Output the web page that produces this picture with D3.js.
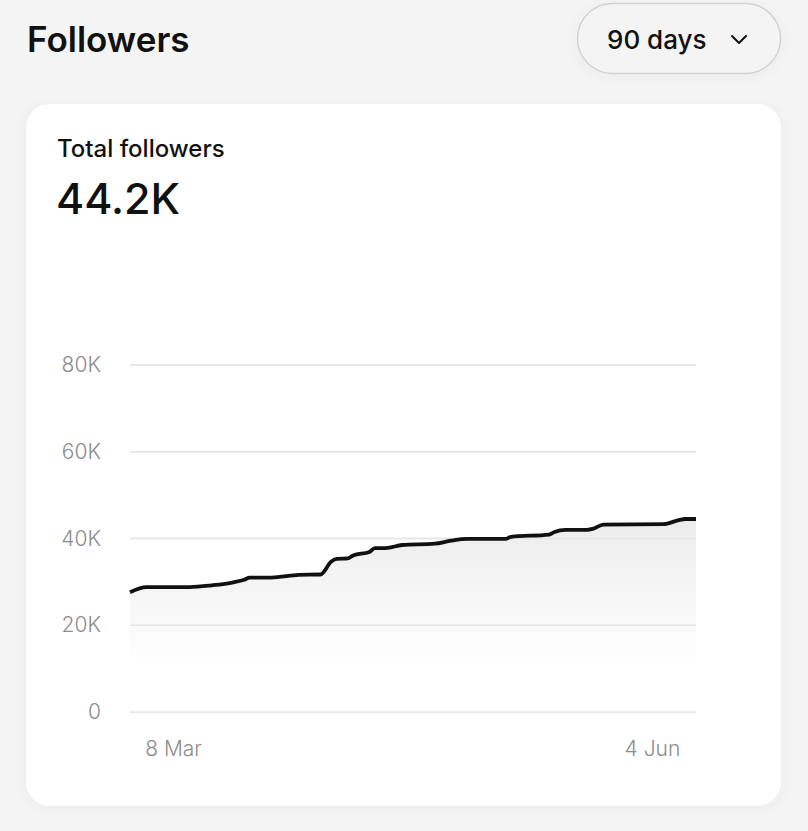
<!DOCTYPE html>
<html>
<head>
<meta charset="utf-8">
<script src="https://cdn.jsdelivr.net/npm/d3@7"></script>
<style>
  body { margin: 0; background: #f4f4f4; font-family: Inter, "Noto Sans", sans-serif; }
  svg { display: block; }
  .grid line { stroke: #e6e6e6; stroke-width: 1.5; }
  .tick-label { fill: #8c8c8c; font-size: 21px; font-weight: 300; }
</style>
</head>
<body>
<svg width="808" height="831"></svg>
<script>
// Follower totals (thousands)
const dates = [
  "2024-02-29", "2024-03-03", "2024-03-11", "2024-03-15", "2024-03-19",
  "2024-03-21", "2024-03-22", "2024-03-26", "2024-03-31", "2024-04-04",
  "2024-04-06", "2024-04-07", "2024-04-09", "2024-04-10", "2024-04-13",
  "2024-04-14", "2024-04-16", "2024-04-19", "2024-04-25", "2024-04-28",
  "2024-05-01", "2024-05-08", "2024-05-09", "2024-05-16", "2024-05-17",
  "2024-05-19", "2024-05-23", "2024-05-24", "2024-05-26", "2024-06-06",
  "2024-06-09", "2024-06-10", "2024-06-12"
];
const followers = [
  27.6, 28.8, 28.8, 29.2, 29.9,
  30.5, 31.0, 31.0, 31.6, 31.7,
  34.7, 35.3, 35.4, 36.1, 36.9,
  37.8, 37.8, 38.5, 38.8, 39.5,
  39.9, 39.9, 40.4, 40.9, 41.5,
  42.0, 42.0, 42.2, 43.2, 43.3,
  44.3, 44.5, 44.5
];
const yTicks = [0, 20, 40, 60, 80];
const xTickDates = ["2024-03-08", "2024-06-04"];
const xTickLabels = ["8 Mar", "4 Jun"];

const parse = d3.timeParse("%Y-%m-%d");
const data = dates.map((d, i) => ({ date: parse(d), value: followers[i] }));

const svg = d3.select("svg");
const defs = svg.append("defs");

// soft shadow for card / button
const shadow = defs.append("filter").attr("id", "shadow")
  .attr("x", "-20%").attr("y", "-20%").attr("width", "140%").attr("height", "140%");
shadow.append("feDropShadow").attr("dx", 0).attr("dy", 2)
  .attr("stdDeviation", 6).attr("flood-color", "#000").attr("flood-opacity", 0.04);

// header
svg.append("text")
  .attr("x", 27).attr("y", 52)
  .attr("font-size", 35).attr("font-weight", 600).attr("fill", "#111")
  .text("Followers");

// period button
svg.append("rect")
  .attr("x", 577.5).attr("y", 3.5).attr("width", 203).attr("height", 70).attr("rx", 35)
  .attr("fill", "#f4f4f4").attr("stroke", "#d2d2d2").attr("stroke-width", 1.5)
  .attr("filter", "url(#shadow)");
svg.append("text")
  .attr("x", 607).attr("y", 49)
  .attr("font-size", 26).attr("font-weight", 500).attr("fill", "#111")
  .text("90 days");
svg.append("path")
  .attr("d", "M732,36 L739,43 L746,36")
  .attr("fill", "none").attr("stroke", "#111").attr("stroke-width", 2)
  .attr("stroke-linecap", "round").attr("stroke-linejoin", "round");

// card
svg.append("rect")
  .attr("x", 26).attr("y", 104).attr("width", 755).attr("height", 702).attr("rx", 24)
  .attr("fill", "#fff").attr("filter", "url(#shadow)");

svg.append("text")
  .attr("x", 57).attr("y", 157)
  .attr("font-size", 24).attr("font-weight", 500).attr("fill", "#111")
  .text("Total followers");
svg.append("text")
  .attr("x", 56).attr("y", 214)
  .attr("font-size", 43).attr("font-weight", 500).attr("fill", "#111")
  .text("44.2K");

// scales
const x = d3.scaleTime()
  .domain(d3.extent(data, d => d.date))
  .range([130, 696]);
const y = d3.scaleLinear()
  .domain([0, 80])
  .range([712, 365]);

// gridlines
svg.append("g").attr("class", "grid")
  .selectAll("line").data(yTicks).join("line")
  .attr("x1", 130).attr("x2", 696)
  .attr("y1", d => y(d)).attr("y2", d => y(d));

svg.append("g")
  .selectAll("text").data(yTicks).join("text")
  .attr("class", "tick-label")
  .attr("x", 101).attr("y", d => y(d) + 7)
  .attr("text-anchor", "end")
  .text(d => d === 0 ? "0" : d + "K");

svg.append("g")
  .selectAll("text").data(xTickDates).join("text")
  .attr("class", "tick-label")
  .attr("x", d => x(parse(d))).attr("y", 756)
  .attr("text-anchor", "middle")
  .text((d, i) => xTickLabels[i]);

// area fill
const grad = defs.append("linearGradient").attr("id", "fade")
  .attr("gradientUnits", "userSpaceOnUse")
  .attr("x1", 0).attr("x2", 0).attr("y1", y(45)).attr("y2", y(11));
grad.append("stop").attr("offset", 0).attr("stop-color", "#ececec");
grad.append("stop").attr("offset", 1).attr("stop-color", "#fff");

const curve = d3.curveMonotoneX;
svg.append("path")
  .datum(data)
  .attr("fill", "url(#fade)")
  .attr("d", d3.area().curve(curve)
    .x(d => x(d.date)).y0(y(0)).y1(d => y(d.value)));

// redraw gridlines over fill
svg.append("g").attr("class", "grid")
  .selectAll("line").data(yTicks).join("line")
  .attr("x1", 130).attr("x2", 696)
  .attr("y1", d => y(d)).attr("y2", d => y(d));

svg.append("path")
  .datum(data)
  .attr("fill", "none")
  .attr("stroke", "#111")
  .attr("stroke-width", 3.8)
  .attr("stroke-linejoin", "round")
  .attr("d", d3.line().curve(curve).x(d => x(d.date)).y(d => y(d.value)));
</script>
</body>
</html>
